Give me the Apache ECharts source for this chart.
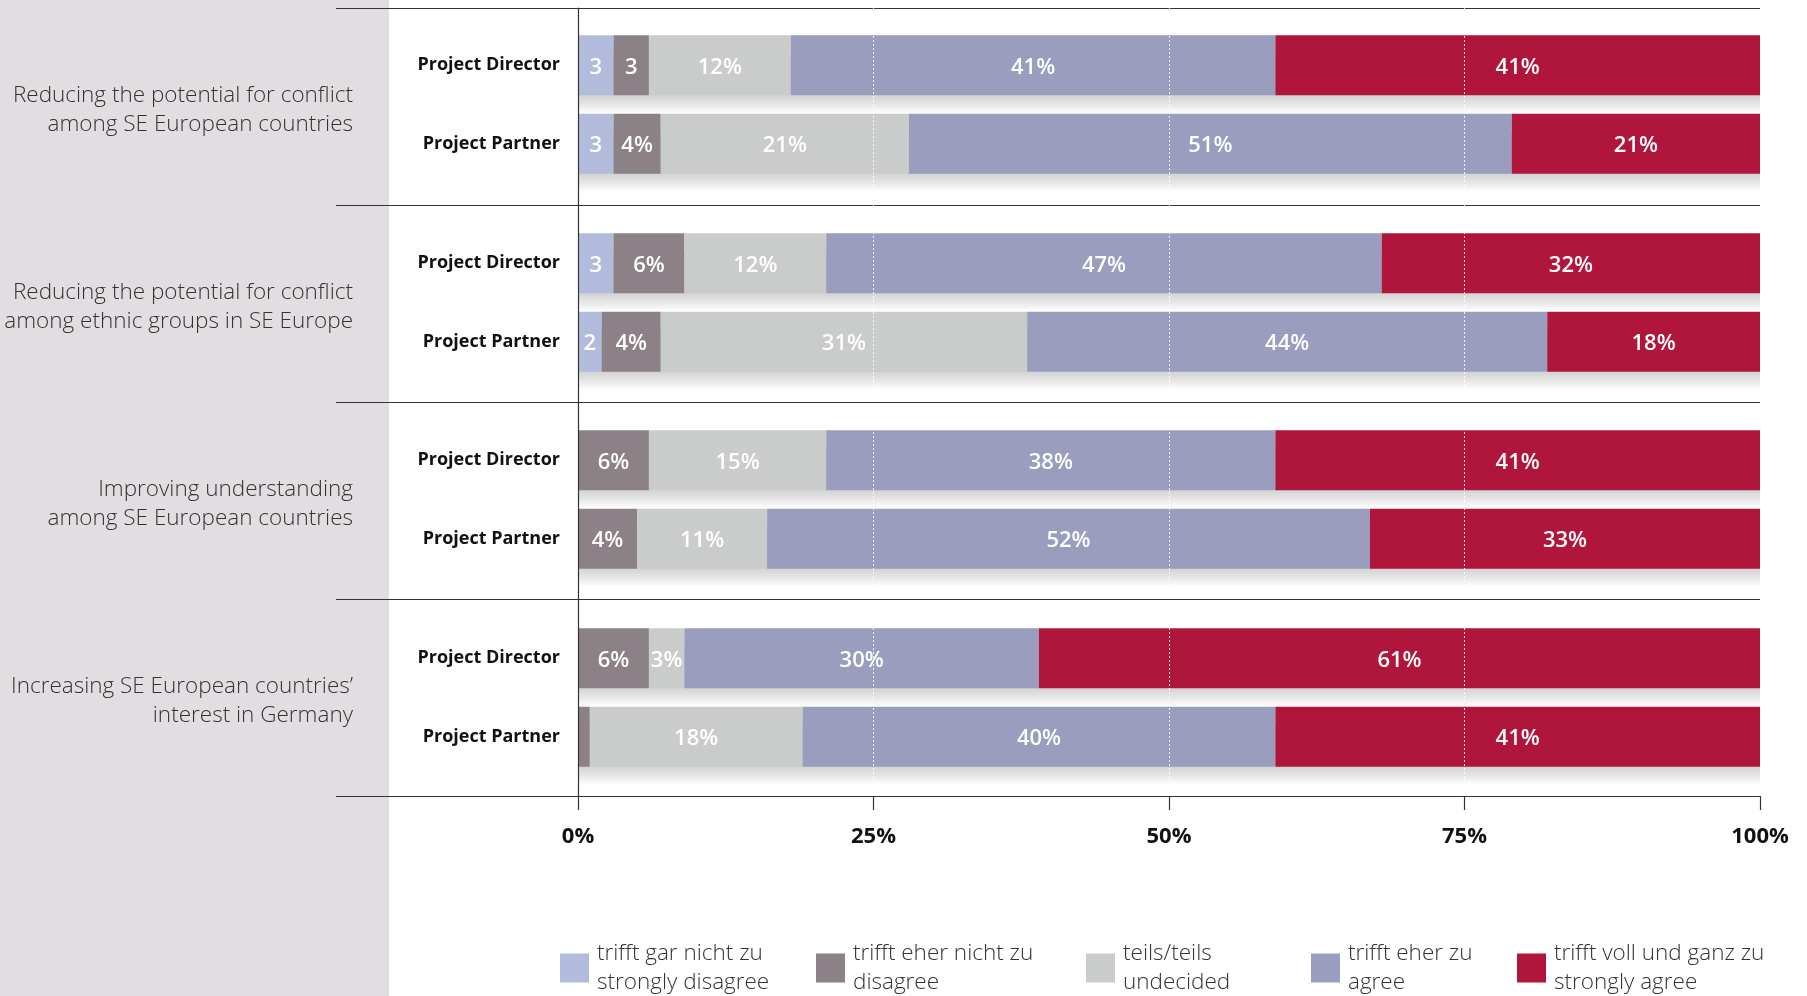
<!DOCTYPE html>
<html>
<head>
<meta charset="utf-8">
<script src="https://cdn.jsdelivr.net/npm/echarts@6/dist/echarts.min.js"></script>
<style>
html,body{margin:0;padding:0;background:#fff;}
#chart{width:1807px;height:996px;}
</style>
</head>
<body>
<div id="chart"></div>
<script>
// ---- data ----
const groupLabels = [
  'Reducing the potential for conflict\namong SE European countries',
  'Reducing the potential for conflict\namong ethnic groups in SE Europe',
  'Improving understanding\namong SE European countries',
  'Increasing SE European countries\u2019\ninterest in Germany'
];
const rowLabels = ['Project Director', 'Project Partner'];
const responseNamesDe = ['trifft gar nicht zu', 'trifft eher nicht zu', 'teils/teils', 'trifft eher zu', 'trifft voll und ganz zu'];
const responseNamesEn = ['strongly disagree', 'disagree', 'undecided', 'agree', 'strongly agree'];

// rows: G1 PD, G1 PP, G2 PD, G2 PP, G3 PD, G3 PP, G4 PD, G4 PP  (bar widths in %)
const stronglyDisagree = [3, 3, 3, 2, 0, 0, 0, 0];
const disagree         = [3, 4, 6, 5, 6, 5, 6, 1];
const undecided        = [12, 21, 12, 31, 15, 11, 3, 18];
const agree            = [41, 51, 47, 44, 38, 51, 30, 40];
const stronglyAgree    = [41, 21, 32, 18, 41, 33, 61, 41];

// printed labels
const labelsStronglyDisagree = ['3', '3', '3', '2', '', '', '', ''];
const labelsDisagree         = ['3', '4%', '6%', '4%', '6%', '4%', '6%', ''];
const labelsUndecided        = ['12%', '21%', '12%', '31%', '15%', '11%', '3%', '18%'];
const labelsAgree            = ['41%', '51%', '47%', '44%', '38%', '52%', '30%', '40%'];
const labelsStronglyAgree    = ['41%', '21%', '32%', '18%', '41%', '33%', '61%', '41%'];

const axisMin = 0, axisMax = 100, axisInterval = 25;

// ---- chart ----
const values = [stronglyDisagree, disagree, undecided, agree, stronglyAgree];
const labels = [labelsStronglyDisagree, labelsDisagree, labelsUndecided, labelsAgree, labelsStronglyAgree];
const totals = stronglyDisagree.map((v, i) => values.reduce((s, arr) => s + arr[i], 0));
const colors = ['#b2bbdb', '#8c8186', '#cacccb', '#9a9dbd', '#b0153b'];

const FONT = '"Open Sans", "Noto Sans", sans-serif';
const groupTops = [26, 224, 421, 619];
const SHADOW_SHIFT = 18;

const grids = [
  { left: 0, top: 0, width: 389, height: 996, show: true, backgroundColor: '#e1dde1', borderWidth: 0 },
  { left: 336, right: 47, top: 8, height: 788 },      // separators
  { left: 578, right: 47, top: 8, height: 788 },      // value axis
  { left: 336, right: 47, top: 11.5, height: 788 }    // group labels
];
const xAxes = [
  { gridIndex: 0, type: 'value', show: false },
  { gridIndex: 1, type: 'value', show: false },
  {
    gridIndex: 2, type: 'value', min: axisMin, max: axisMax, interval: axisInterval, z: 10,
    axisLine: { show: true, lineStyle: { color: '#333', width: 1.2 } },
    axisTick: { show: true, length: 14, lineStyle: { color: '#333', width: 1.2 } },
    axisLabel: { formatter: '{value}%', fontFamily: FONT, fontWeight: 'bold', fontSize: 22, color: '#111', margin: 30 },
    splitLine: { show: true, lineStyle: { color: 'rgba(255,255,255,0.85)', width: 1, type: [2, 2] } }
  },
  { gridIndex: 3, type: 'value', show: false }
];
const yAxes = [
  { gridIndex: 0, type: 'value', show: false },
  {
    gridIndex: 1, type: 'category', data: groupLabels, inverse: true, z: 3,
    axisLine: { show: false }, axisTick: { show: false }, axisLabel: { show: false },
    splitLine: { show: true, lineStyle: { color: '#333', width: 1.2 } }
  },
  {
    gridIndex: 2, type: 'value', min: 0, max: 1, z: 10,
    axisLine: { show: true, lineStyle: { color: '#333', width: 1.2 } },
    axisTick: { show: false }, axisLabel: { show: false }, splitLine: { show: false }
  },
  {
    gridIndex: 3, type: 'category', data: groupLabels, inverse: true, z: 3,
    axisLine: { show: false }, axisTick: { show: false }, splitLine: { show: false },
    axisLabel: { margin: -17, align: 'right', fontFamily: FONT, fontWeight: 300, fontSize: 22.5, lineHeight: 29, color: '#333' }
  }
];

const shadowGradient = new echarts.graphic.LinearGradient(0, 0, 0, 1, [
  { offset: 0, color: '#d2d2d2' },
  { offset: 0.7, color: '#d3d3d3' },
  { offset: 0.85, color: '#e6e6e6' },
  { offset: 1, color: '#ffffff' }
]);

const series = [];
groupTops.forEach((top, g) => {
  // main grid
  const gi = grids.length;
  grids.push({ left: 578, right: 47, top: top, height: 157 });
  xAxes.push({ gridIndex: gi, type: 'value', min: axisMin, max: axisMax, show: false });
  yAxes.push({
    gridIndex: gi, type: 'category', data: rowLabels, inverse: true,
    axisLine: { show: false }, axisTick: { show: false }, splitLine: { show: false },
    axisLabel: { margin: 18, fontFamily: FONT, fontWeight: 'bold', fontSize: 18, color: '#111' }
  });
  // shadow grid (same geometry, shifted down)
  const si = grids.length;
  grids.push({ left: 578, right: 47, top: top + SHADOW_SHIFT, height: 157 });
  xAxes.push({ gridIndex: si, type: 'value', min: axisMin, max: axisMax, show: false });
  yAxes.push({ gridIndex: si, type: 'category', data: rowLabels, inverse: true, show: false });

  series.push({
    type: 'bar', name: 'shadow' + g, xAxisIndex: si, yAxisIndex: si, clip: false,
    data: totals.slice(2 * g, 2 * g + 2), barWidth: 60, z: 1, silent: true,
    itemStyle: { color: shadowGradient },
    label: { show: false }, emphasis: { disabled: true }
  });
  values.forEach((arr, k) => {
    series.push({
      type: 'bar', name: responseNamesDe[k], stack: 'g' + g, xAxisIndex: gi, yAxisIndex: gi, clip: false,
      data: arr.slice(2 * g, 2 * g + 2), barWidth: 60, z: 2,
      itemStyle: { color: colors[k] },
      label: {
        show: true, position: 'inside', offset: [0, 2], color: '#fff', fontFamily: FONT, fontWeight: 600, fontSize: 22,
        formatter: (p) => labels[k][2 * g + p.dataIndex]
      },
      emphasis: { disabled: true }
    });
  });
});

const legendLefts = [560, 816, 1086, 1311, 1517];
const legends = responseNamesDe.map((n, i) => ({
  data: [n], left: legendLefts[i], top: 939, orient: 'horizontal', padding: 0,
  itemWidth: 29, itemHeight: 29, icon: 'rect', selectedMode: false,
  formatter: (name) => name + '\n' + responseNamesEn[responseNamesDe.indexOf(name)],
  textStyle: { fontFamily: FONT, fontWeight: 300, fontSize: 22.5, lineHeight: 29, color: '#333', padding: [0, 0, 0, 3] }
}));

const chart = echarts.init(document.getElementById('chart'), null, { renderer: 'canvas' });
chart.setOption({
  backgroundColor: '#fff',
  animation: false,
  grid: grids,
  xAxis: xAxes,
  yAxis: yAxes,
  legend: legends,
  series: series
});
</script>
</body>
</html>
